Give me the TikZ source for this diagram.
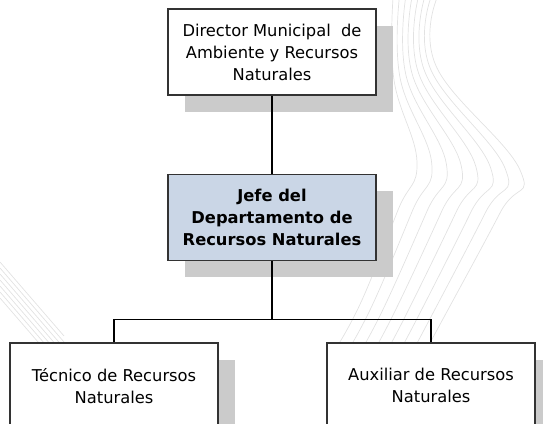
\documentclass[tikz,border=0pt]{standalone}
\usepackage{fontspec}
\setmainfont{DejaVu Sans}
\usetikzlibrary{positioning,shadows}
\definecolor{boxline}{HTML}{333333}
\definecolor{shadowgray}{HTML}{CBCBCB}
\definecolor{jefefill}{HTML}{CAD6E6}
\definecolor{watermark}{HTML}{E2E2E2}

\begin{document}
\begin{tikzpicture}[x=1pt, y=-1pt, node distance=78pt,
    every node/.style={font=\fontsize{16.3}{22}\selectfont},
    orgbox/.style={draw=boxline, line width=1.4pt, fill=white, align=center,
      minimum width=208pt, minimum height=86pt, inner sep=2pt,
      drop shadow={shadow xshift=17pt, shadow yshift=-17pt, fill=shadowgray, opacity=1}},
    link/.style={line width=1.1pt}]
  \clip (0,0) rectangle (543,423);
  \foreach \i in {0,...,7} {
    \pgfmathsetmacro{\t}{\i/7}
    \draw[watermark, line width=0.7pt] plot[smooth, tension=0.7] coordinates
      {({393+44*\t},-2) ({394+43*\t},{80-12*\t}) ({417+103*\t},{162+8*\t})
       ({398+102*\t},{210+3*\t}) ({362+75*\t},{300+30*\t}) ({335+75*\t},{350+30*\t})};
  }
  \foreach \i in {0,...,6}
    \draw[watermark, line width=0.7pt] (0,{262+6*\i}) -- (64,{336+6*\i});

  \node (dir) [orgbox] at (272,52) {Director Municipal \ de\\Ambiente y Recursos\\Naturales};
  \node (jefe) [orgbox, below=of dir, fill=jefefill, font=\fontsize{16.3}{22}\selectfont\bfseries]
    {Jefe del\\Departamento de\\Recursos Naturales};
  \node (tec) [orgbox, below=81pt of jefe, xshift=-158pt] {Técnico de Recursos\\Naturales};
  \node (aux) [orgbox, below=81pt of jefe, xshift=159pt] {Auxiliar de Recursos\\Naturales};
  \coordinate [below=58pt of jefe.south] (split);

  \draw[link] (dir) -- (jefe);
  \draw[link] (jefe) -- (split) -| (tec);
  \draw[link] (split) -| (aux);
\end{tikzpicture}
\end{document}
